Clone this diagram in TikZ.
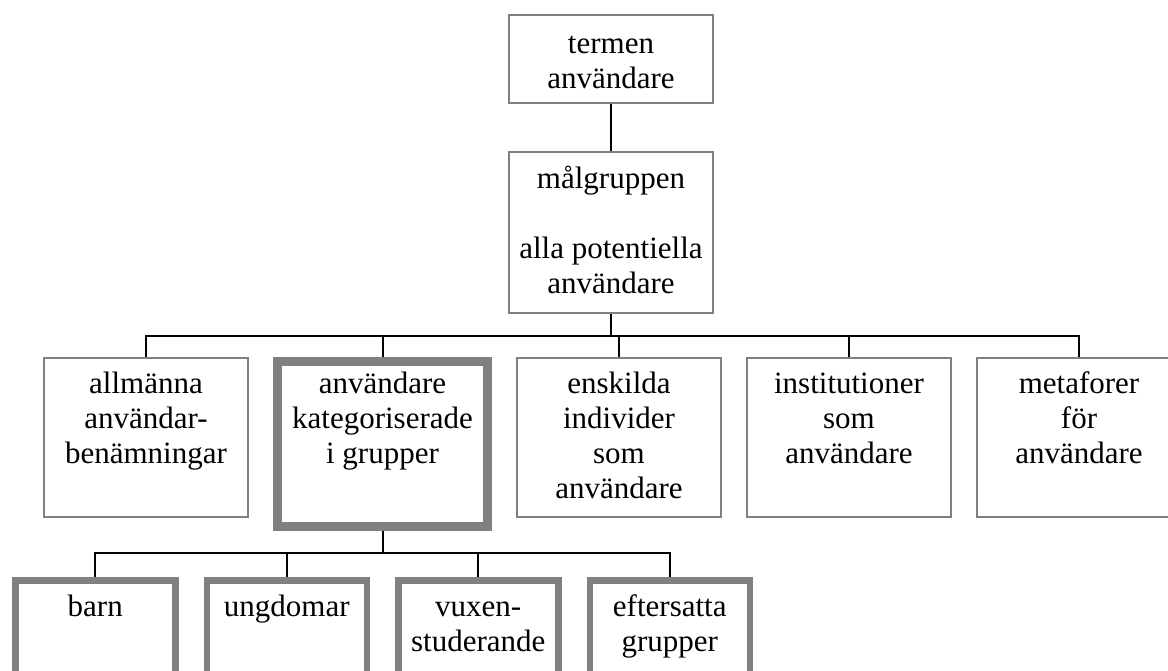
\documentclass[tikz,border=0pt]{standalone}
\usepackage{fontspec}
\setmainfont{Liberation Serif}
\usetikzlibrary{positioning}

\begin{document}
\begin{tikzpicture}[
        node distance=12pt,
        lines/.style={
            execute at begin node={\begin{minipage}[t]{#1}\centering},
            execute at end node={\end{minipage}}
        },
        cell/.style={
            draw=gray,
            rectangle,
            line width=1pt,
            inner sep=0pt,
            font=\fontsize{15.5}{17.5}\selectfont
        },
        block/.style={
            cell,
            lines=100pt,
            minimum width=102pt,
            minimum height=79.5pt,
            text height=17.5pt,
            text depth=62pt
        },
        focus/.style={
            block,
            line width=4.5pt,
            minimum width=105pt,
            minimum height=82.5pt,
            text height=15.75pt,
            text depth=66.75pt
        },
        subgroup/.style={
            cell,
            lines=78pt,
            line width=3.25pt,
            minimum width=80pt,
            minimum height=80pt,
            text height=18pt,
            text depth=62pt
        },
        link/.style={
            draw=black,
            line width=1pt
        }
    ]
        \useasboundingbox (0,0) rectangle (584pt,-335pt);
        \clip (0,0) rectangle (584pt,-335pt);

        % Top: the term and the target group
        \node (term) [block, anchor=north, minimum height=44pt, text height=19pt, text depth=25pt] at (305.5pt,-7pt) {termen\\användare};
        \node (malgr) [block, below=23.5pt of term, minimum height=80.5pt, text height=18pt, text depth=62.5pt] {målgruppen\\[17.5pt]alla potentiella\\användare};

        % Second level
        \node (allm) [block, anchor=north] at (73pt,-178.5pt) {allmänna\\användar-\\benämningar};
        \node (kat) [focus, right=of allm.north east, anchor=north west] {användare\\kategoriserade\\i grupper};
        \node (enskilda) [block, right=of kat.north east, anchor=north west] {enskilda\\individer\\som\\användare};
        \node (inst) [block, right=of enskilda.north east, anchor=north west] {institutioner\\som\\användare};
        \node (meta) [block, right=of inst.north east, anchor=north west] {metaforer\\för\\användare};

        % Groups
        \node (barn) [subgroup, anchor=north west] at (6pt,-288.5pt) {barn};
        \node (ungd) [subgroup, right=12.5pt of barn.north east, anchor=north west] {ungdomar};
        \node (vuxen) [subgroup, right=12.5pt of ungd.north east, anchor=north west] {vuxen-\\studerande};
        \node (efter) [subgroup, right=12.5pt of vuxen.north east, anchor=north west] {eftersatta\\grupper};

        % Connections
        \draw [link] (term) -- (malgr);
        \draw [link] (malgr.south) -- ++(0,-11pt) coordinate (hub);
        \draw [link] (hub) -| (allm.north);
        \draw [link] (hub) -| (kat.north);
        \draw [link] (hub) -| (enskilda.north);
        \draw [link] (hub) -| (inst.north);
        \draw [link] (hub) -| (meta.north);
        \draw [link] (kat.south) -- ++(0,-11pt) coordinate (kathub);
        \draw [link] (kathub) -| (barn.north);
        \draw [link] (kathub) -| (ungd.north);
        \draw [link] (kathub) -| (vuxen.north);
        \draw [link] (kathub) -| (efter.north);
    \end{tikzpicture}
\end{document}
